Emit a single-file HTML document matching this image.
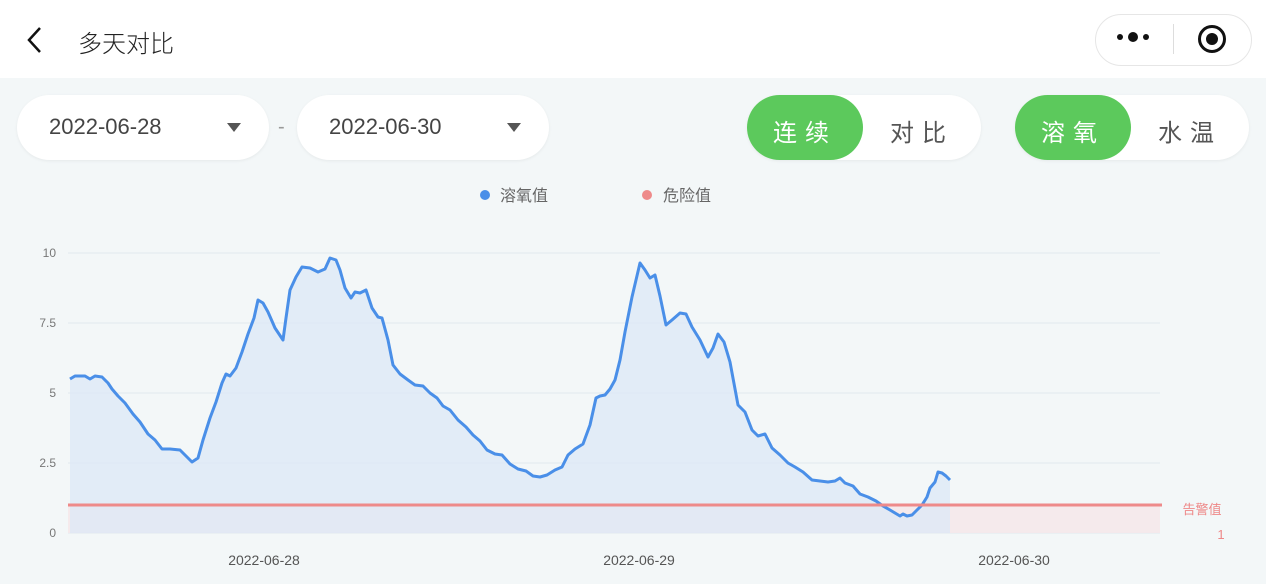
<!DOCTYPE html>
<html><head><meta charset="utf-8"><style>
body{margin:0;width:1266px;height:584px;background:#f3f7f8;font-family:"Liberation Sans","Noto Sans CJK SC",sans-serif;position:relative;overflow:hidden}
.hdr{position:absolute;left:0;top:0;width:1266px;height:78px;background:#fff}
.pill{position:absolute;background:#fff;border-radius:33px;box-shadow:0 1px 3px rgba(0,0,0,.06)}
.t{position:absolute;white-space:nowrap}
</style></head><body>
<div class="hdr"></div>
<svg class="t" style="left:24px;top:26px" width="20" height="28"><path d="M16 2 L5 14 L16 26" fill="none" stroke="#111" stroke-width="2.5"/></svg>
<div class="t" style="left:78px;top:24px;font-size:24px;color:#222;font-weight:300">多天对比</div>
<div class="pill" style="left:1095px;top:14px;width:155px;height:50px;border:1px solid #e6e6e6;box-shadow:none"></div>
<div class="t" style="left:1117px;top:34px;width:6px;height:6px;border-radius:3px;background:#111"></div>
<div class="t" style="left:1128px;top:32px;width:10px;height:10px;border-radius:5px;background:#111"></div>
<div class="t" style="left:1143px;top:34px;width:6px;height:6px;border-radius:3px;background:#111"></div>
<div class="t" style="left:1173px;top:24px;width:1px;height:30px;background:#ddd"></div>
<div class="t" style="left:1198px;top:25px;width:22px;height:22px;border:3px solid #111;border-radius:50%"></div>
<div class="t" style="left:1206px;top:33px;width:12px;height:12px;background:#111;border-radius:50%"></div>

<div class="pill" style="left:17px;top:95px;width:252px;height:65px"></div>
<div class="t" style="left:49px;top:114px;font-size:22px;color:#444">2022-06-28</div>
<svg class="t" style="left:226px;top:122px" width="16" height="12"><path d="M1 1H15L8 10Z" fill="#555"/></svg>
<div class="t" style="left:278px;top:116px;font-size:20px;color:#999">-</div>
<div class="pill" style="left:297px;top:95px;width:252px;height:65px"></div>
<div class="t" style="left:329px;top:114px;font-size:22px;color:#444">2022-06-30</div>
<svg class="t" style="left:506px;top:122px" width="16" height="12"><path d="M1 1H15L8 10Z" fill="#555"/></svg>

<div class="pill" style="left:747px;top:95px;width:234px;height:65px"></div>
<div class="pill" style="left:747px;top:95px;width:116px;height:65px;background:#5cc95c;box-shadow:none"></div>
<div class="t" style="left:773px;top:113px;font-size:24px;color:#fff;letter-spacing:8px">连续</div>
<div class="t" style="left:890px;top:113px;font-size:24px;color:#555;letter-spacing:8px">对比</div>
<div class="pill" style="left:1015px;top:95px;width:234px;height:65px"></div>
<div class="pill" style="left:1015px;top:95px;width:116px;height:65px;background:#5cc95c;box-shadow:none"></div>
<div class="t" style="left:1041px;top:113px;font-size:24px;color:#fff;letter-spacing:8px">溶氧</div>
<div class="t" style="left:1158px;top:113px;font-size:24px;color:#555;letter-spacing:8px">水温</div>

<svg class="t" style="left:0;top:0" width="1266" height="584">
<circle cx="485" cy="195" r="5" fill="#4a8fe8"/>
<text x="500" y="201" font-size="16" fill="#666" font-family="Liberation Sans,Noto Sans CJK SC,sans-serif">溶氧值</text>
<circle cx="647" cy="195" r="5" fill="#ee8a8a"/>
<text x="663" y="201" font-size="16" fill="#666" font-family="Liberation Sans,Noto Sans CJK SC,sans-serif">危险值</text>
<g stroke="#e2e8ee" stroke-width="1">
<line x1="68" y1="253" x2="1160" y2="253"/><line x1="68" y1="323" x2="1160" y2="323"/>
<line x1="68" y1="393" x2="1160" y2="393"/><line x1="68" y1="463" x2="1160" y2="463"/>
<line x1="68" y1="533" x2="1160" y2="533"/></g>
<g font-size="12" fill="#777" text-anchor="end" font-family="Liberation Sans,sans-serif">
<text x="56" y="257">10</text><text x="56" y="327">7.5</text><text x="56" y="397">5</text><text x="56" y="467">2.5</text><text x="56" y="537">0</text></g>
<rect x="68" y="505" width="1092" height="28" fill="#f5e8ea" opacity="0.9"/>
<polygon fill="#dce8f7" opacity="0.75" points="70,533 70,379 75,376 85,376 90,379 95,376 102,377 108,383 112,389 118,396 125,403 133,414 140,422 148,434 155,440 162,449 170,449 180,450 185,455 192,462 198,458 203,440 210,418 216,402 222,383 226,374 230,376 236,368 242,352 248,334 254,318 258,300 263,303 268,312 275,328 283,340 286,318 290,290 296,277 302,267 310,268 318,272 325,269 330,258 336,260 340,270 345,288 351,298 355,292 360,293 366,290 372,308 378,317 382,318 388,340 393,365 400,374 408,380 415,385 423,386 430,393 437,398 443,406 450,410 458,420 466,427 473,435 480,441 487,450 495,454 502,455 510,464 518,469 526,471 533,476 540,477 547,475 555,470 562,467 568,455 575,449 583,444 590,425 596,398 600,396 605,395 610,389 615,380 620,360 625,332 632,297 640,263 645,270 650,278 655,275 660,296 666,325 672,320 680,313 686,314 692,327 700,340 708,357 713,348 718,334 724,342 730,362 738,405 745,412 752,430 758,436 765,434 772,448 780,455 788,463 795,467 803,472 812,480 820,481 828,482 835,481 840,478 845,483 853,486 860,494 868,497 876,501 883,506 890,510 895,513 900,516 903,514 907,516 912,515 917,510 922,505 927,497 930,488 935,482 938,472 942,473 946,476 950,480 950,533"/>
<polyline fill="none" stroke="#4a8fe8" stroke-width="3" stroke-linejoin="round" points="70,379 75,376 85,376 90,379 95,376 102,377 108,383 112,389 118,396 125,403 133,414 140,422 148,434 155,440 162,449 170,449 180,450 185,455 192,462 198,458 203,440 210,418 216,402 222,383 226,374 230,376 236,368 242,352 248,334 254,318 258,300 263,303 268,312 275,328 283,340 286,318 290,290 296,277 302,267 310,268 318,272 325,269 330,258 336,260 340,270 345,288 351,298 355,292 360,293 366,290 372,308 378,317 382,318 388,340 393,365 400,374 408,380 415,385 423,386 430,393 437,398 443,406 450,410 458,420 466,427 473,435 480,441 487,450 495,454 502,455 510,464 518,469 526,471 533,476 540,477 547,475 555,470 562,467 568,455 575,449 583,444 590,425 596,398 600,396 605,395 610,389 615,380 620,360 625,332 632,297 640,263 645,270 650,278 655,275 660,296 666,325 672,320 680,313 686,314 692,327 700,340 708,357 713,348 718,334 724,342 730,362 738,405 745,412 752,430 758,436 765,434 772,448 780,455 788,463 795,467 803,472 812,480 820,481 828,482 835,481 840,478 845,483 853,486 860,494 868,497 876,501 883,506 890,510 895,513 900,516 903,514 907,516 912,515 917,510 922,505 927,497 930,488 935,482 938,472 942,473 946,476 950,480"/>
<line x1="68" y1="505" x2="1162" y2="505" stroke="#ee8a8a" stroke-width="3"/>
<g font-size="14" fill="#555" text-anchor="middle" font-family="Liberation Sans,sans-serif">
<text x="264" y="565">2022-06-28</text><text x="639" y="565">2022-06-29</text><text x="1014" y="565">2022-06-30</text></g>
<text x="1202" y="514" font-size="13" fill="#e88" text-anchor="middle" font-family="Liberation Sans,Noto Sans CJK SC,sans-serif">告警值</text>
<text x="1221" y="539" font-size="13" fill="#e88" text-anchor="middle" font-family="Liberation Sans,sans-serif">1</text>
</svg>
</body></html>
